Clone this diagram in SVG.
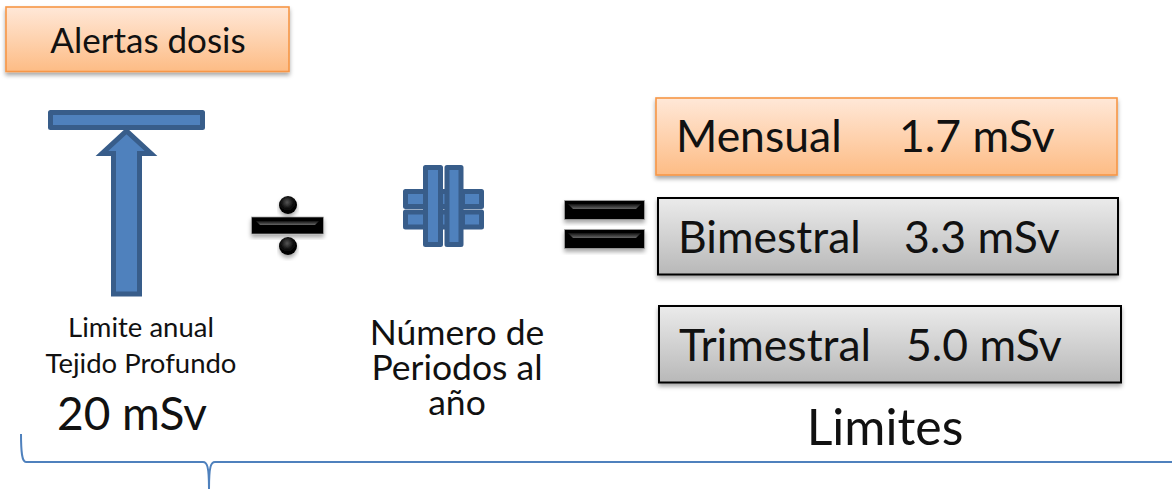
<svg xmlns="http://www.w3.org/2000/svg" width="1172" height="489" viewBox="0 0 1172 489">
<style>
text{font-family:Lato,"Noto Sans","Liberation Sans",sans-serif;fill:#111}
.blue{fill:#4f81bd;stroke:#385d8a;stroke-width:5;stroke-linejoin:round}
.orange{fill:url(#og);stroke:#f79646;stroke-width:1.6;filter:url(#sh)}
.gray{fill:url(#gg);stroke:#000;stroke-width:2;filter:url(#sh)}
.blk{fill:#050505;stroke:#aaa;stroke-width:.7;filter:url(#sh)}
.bev{fill:url(#bk)}
.big{font-size:44.5px}
.small{font-size:27.5px}
.mid{font-size:35.500px}
</style>
<defs>
<linearGradient id="og" x1="0" y1="0" x2="0" y2="1"><stop offset="0" stop-color="#ffe8d8"/><stop offset="1" stop-color="#fdbc85"/></linearGradient>
<linearGradient id="gg" x1="0" y1="0" x2="0" y2="1"><stop offset="0" stop-color="#ebebeb"/><stop offset="1" stop-color="#b8b8b8"/></linearGradient>
<linearGradient id="bk" x1="0" y1="0" x2="0" y2="1"><stop offset="0" stop-color="#111"/><stop offset="1" stop-color="#666"/></linearGradient>
<radialGradient id="ball" cx=".45" cy=".35" r=".6"><stop offset="0" stop-color="#555"/><stop offset=".6" stop-color="#0a0a0a"/><stop offset="1" stop-color="#000"/></radialGradient>
<filter id="sh" x="-10%" y="-20%" width="120%" height="150%"><feDropShadow dx="0" dy="3" stdDeviation="2" flood-color="#000" flood-opacity=".35"/></filter>
</defs>
<g id="alertas">
<rect class="orange" x="6" y="7" width="283" height="64.500"/>
<text x="148" y="53" font-size="35" text-anchor="middle">Alertas dosis</text>
</g>
<g id="limite-simbolo">
<rect class="blue" x="50.500" y="112.500" width="152" height="15"/>
<path class="blue" style="stroke-linejoin:miter" d="M113.500 294V153.500H102L126.500 131L151 153.500H139.500V294Z"/>
</g>
<g id="limite-anual">
<text x="141" y="337" class="small" text-anchor="middle">Limite anual</text>
<text x="141" y="373" class="small" text-anchor="middle">Tejido Profundo</text>
<text x="132" y="430" font-size="46" text-anchor="middle">20 mSv</text>
</g>
<g id="dividir">
<rect class="blk" x="251.500" y="217" width="72" height="17"/>
<path class="bev" d="M256 221H319L315 225H260Z"/>
<circle cx="288" cy="205" r="9" fill="url(#ball)" filter="url(#sh)"/>
<circle cx="288" cy="246" r="9" fill="url(#ball)" filter="url(#sh)"/>
</g>
<g id="numeral">
<rect class="blue" x="405.500" y="191.500" width="55" height="15"/>
<rect class="blue" x="405.500" y="212" width="55" height="15"/>
<rect class="blue" x="462.500" y="191.500" width="19" height="15"/>
<rect class="blue" x="462.500" y="212" width="19" height="15"/>
<rect class="blue" x="425.500" y="167.500" width="15" height="77"/>
<rect class="blue" x="447" y="167.500" width="14" height="77"/>
</g>
<g id="numero-periodos">
<text x="457" y="345" class="mid" text-anchor="middle">Número de</text>
<text x="457" y="380" class="mid" text-anchor="middle">Periodos al</text>
<text x="457" y="415" class="mid" text-anchor="middle">año</text>
</g>
<g id="igual">
<rect class="blk" x="564.500" y="200.500" width="80" height="19"/>
<path class="bev" d="M568 204H641L636 209H573Z"/>
<rect class="blk" x="564.500" y="229.500" width="80" height="19"/>
<path class="bev" d="M568 233H641L636 238H573Z"/>
</g>
<g id="mensual">
<rect class="orange" x="656" y="98" width="461" height="77"/>
<text x="676" y="152" class="big">Mensual</text>
<text x="899" y="152" class="big">1.7 mSv</text>
</g>
<g id="bimestral">
<rect class="gray" x="658" y="198" width="460" height="76.500"/>
<text x="678" y="253" class="big">Bimestral</text>
<text x="904" y="253" class="big">3.3 mSv</text>
</g>
<g id="trimestral">
<rect class="gray" x="659" y="306" width="462" height="76.500"/>
<text x="679" y="361" class="big">Trimestral</text>
<text x="906" y="361" class="big">5.0 mSv</text>
</g>
<g id="limites">
<text x="885" y="445" font-size="50" text-anchor="middle">Limites</text>
</g>
<g id="connectors">
<path d="M21 434C21 452 22 462 26 462H203C207 462 209 466 209 489M209 489C209 466 211 462 215 462H1172" fill="none" stroke="#4f81bd" stroke-width="2"/>
</g>
</svg>
